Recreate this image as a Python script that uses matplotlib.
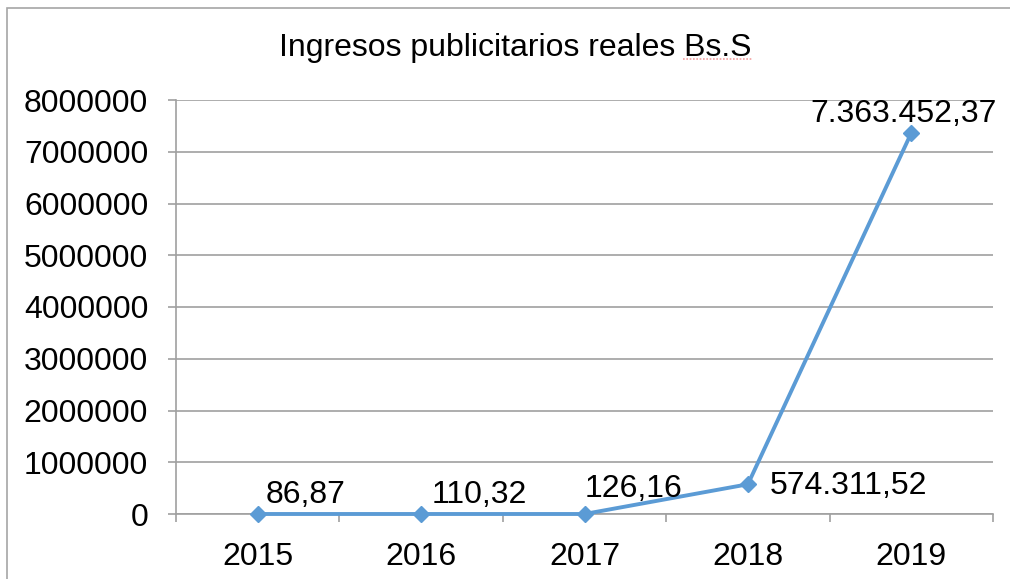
import matplotlib
matplotlib.use("Agg")
import matplotlib.pyplot as plt
from matplotlib.lines import Line2D
from matplotlib.patches import Rectangle

years = ["2015", "2016", "2017", "2018", "2019"]
ingresos = [86.87, 110.32, 126.16, 574311.52, 7363452.37]
etiquetas = ["86,87", "110,32", "126,16", "574.311,52", "7.363.452,37"]
yticks = [0, 1000000, 2000000, 3000000, 4000000, 5000000, 6000000, 7000000, 8000000]
title = "Ingresos publicitarios reales Bs.S"

plt.rcParams['font.family'] = ['Liberation Sans', 'DejaVu Sans']

W, H = 1010, 579
FS = 23
fig = plt.figure(figsize=(W / 100, H / 100), dpi=100)
fig.patch.set_facecolor('white')

# chart border (left and top visible)
fig.patches.append(Rectangle((7 / W, -0.05), 1.2, (H - 8) / H + 0.05, transform=fig.transFigure,
                             fill=False, edgecolor='#A6A6A6', linewidth=1.2))

ax = fig.add_axes([176 / W, (H - 514) / H, (993 - 176) / W, (514 - 100) / H])
x = list(range(len(years)))
ax.plot(x, ingresos, color='#5B9BD5', linewidth=2.8, marker='D', markersize=8.5,
        markerfacecolor='#5B9BD5', markeredgecolor='#5B9BD5', zorder=3, clip_on=False)

ax.set_xlim(-0.5, len(years) - 0.5)
ax.set_ylim(0, 8000000)
ax.set_yticks(yticks)
ax.set_yticklabels([str(v) for v in yticks])
ax.set_xticks(x)
ax.set_xticklabels(years)
ax.set_xticks([i - 0.5 for i in range(len(years) + 1)], minor=True)

ax.grid(axis='y', color='#A0A0A0', linewidth=1.2)
ax.set_axisbelow(True)
for s in ['top', 'right']:
    ax.spines[s].set_visible(False)
ax.spines['left'].set_color('#A0A0A0')
ax.spines['bottom'].set_color('#A0A0A0')
ax.spines['left'].set_linewidth(1.2)
ax.spines['bottom'].set_linewidth(1.2)

ax.tick_params(axis='y', which='major', length=6, width=1.2, color='#A0A0A0',
               labelsize=FS, pad=14, direction='out')
ax.tick_params(axis='x', which='major', length=0, labelsize=FS, pad=20)
ax.tick_params(axis='x', which='minor', length=6, width=1.2, color='#A0A0A0', direction='out')

offsets = [(8, 11, 'left'), (11, 11, 'left'), (0, 17, 'left'), (22, -10, 'left'), (-8, 11, 'center')]
for xi, yi, lab, (dx, dy, ha) in zip(x, ingresos, etiquetas, offsets):
    ax.annotate(lab, (xi, yi), xytext=(dx, dy), textcoords='offset pixels',
                ha=ha, va='baseline', fontsize=FS, color='black', annotation_clip=False)

fig.text(515 / W, 1 - 48 / H, title, ha='center', va='center', fontsize=FS, color='black')
# spell-check underline under "Bs.S"
fig.lines.append(Line2D([683 / W, 752 / W], [1 - 59 / H, 1 - 59 / H], transform=fig.transFigure,
                        color='#F2A0A0', linewidth=1.2, linestyle=(0, (1, 1))))

fig.savefig('out.png', dpi=100)
